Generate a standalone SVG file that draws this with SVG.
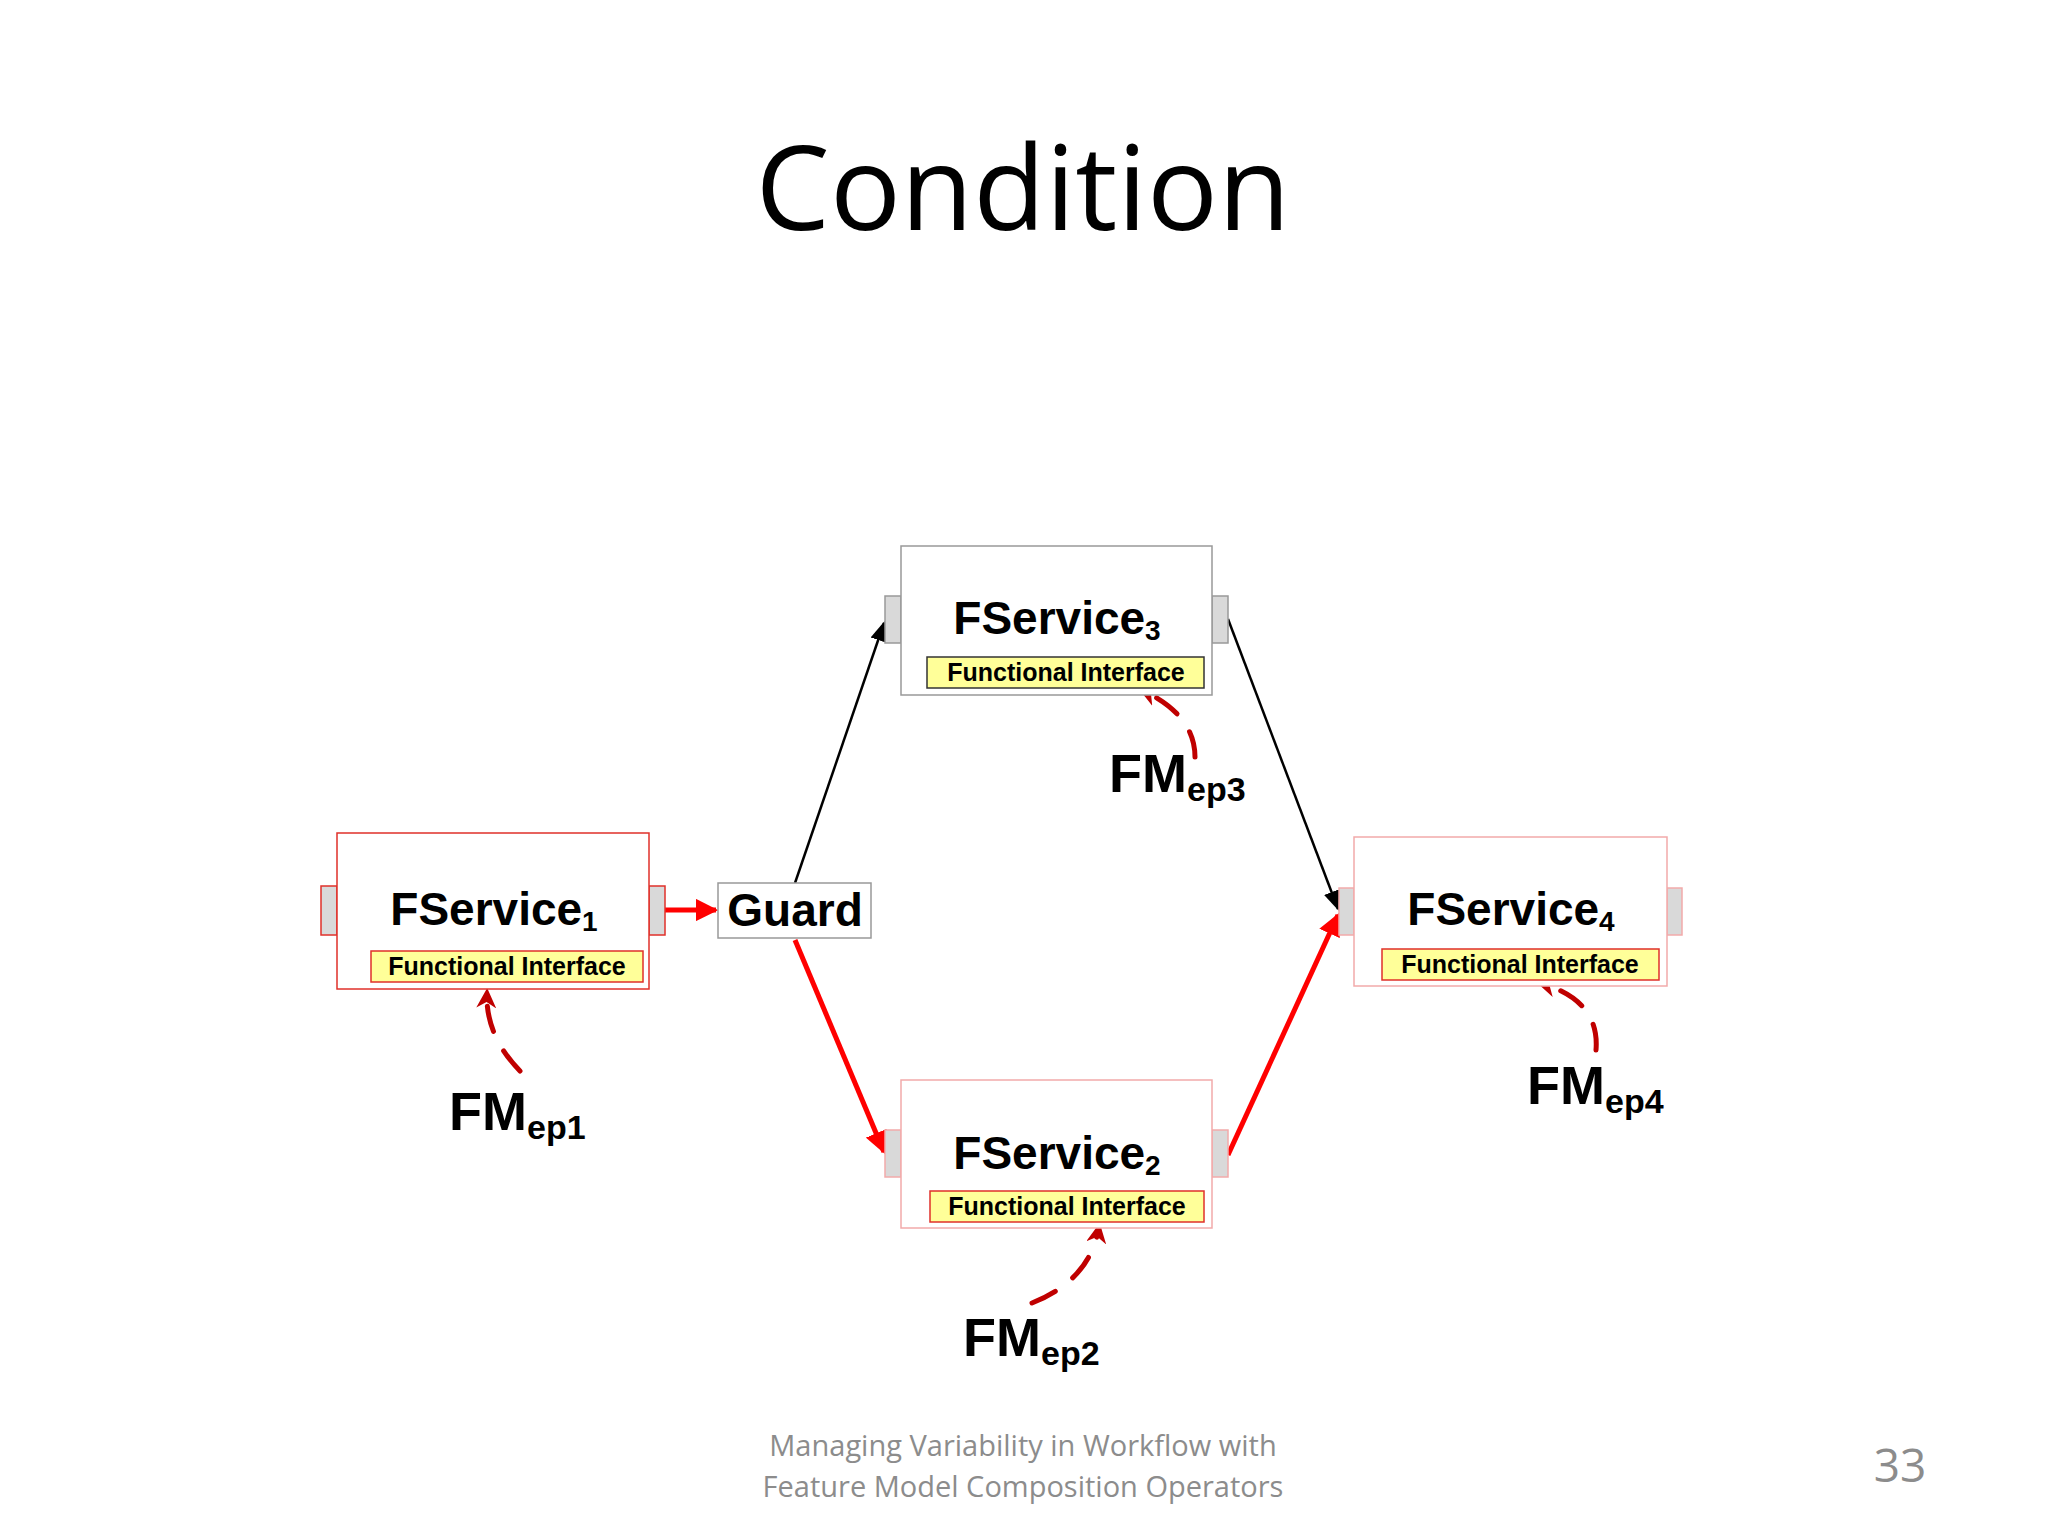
<svg xmlns="http://www.w3.org/2000/svg" width="2048" height="1536" viewBox="0 0 2048 1536">
<defs>
<style>
.box{fill:#fff}
.port{fill:#d9d9d9}
.fi{fill:#ffff99;stroke:#e0302a;stroke-width:1.5}
.t{font-family:"Liberation Sans",Arial,sans-serif;font-weight:bold;fill:#000}
.name{font-size:46px}
.fit{font-size:25px}
.fm{font-size:54px}
.dash{fill:none;stroke:#c00000;stroke-width:5;stroke-dasharray:26 22;stroke-linecap:round}
</style>
<marker id="ab" viewBox="0 0 10 10" refX="9" refY="5" markerWidth="8" markerHeight="8" orient="auto"><path d="M0,1 L10,5 L0,9 z" fill="#000"/></marker>
<marker id="ar" viewBox="0 0 10 10" refX="9" refY="5" markerWidth="4.5" markerHeight="4.5" orient="auto"><path d="M0,0 L10,5 L0,10 z" fill="#f00"/></marker>
<marker id="ad" viewBox="0 0 10 10" refX="8" refY="5" markerWidth="4" markerHeight="4" orient="auto"><path d="M0,0 L10,5 L0,10 L3,5 z" fill="#c00000"/></marker>
</defs>
<rect width="2048" height="1536" fill="#fff"/>
<text x="1023" y="230" text-anchor="middle" font-family="'Open Sans','Liberation Sans',sans-serif" font-size="118" fill="#000">Condition</text>

<g id="connectors">
<line x1="795" y1="883" x2="884" y2="623" stroke="#000" stroke-width="2.5" marker-end="url(#ab)"/>
<line x1="1228" y1="619" x2="1338" y2="909" stroke="#000" stroke-width="2.5" marker-end="url(#ab)"/>
<line x1="665" y1="910" x2="716" y2="910" stroke="#f00" stroke-width="5" marker-end="url(#ar)"/>
<line x1="795" y1="940" x2="884" y2="1152" stroke="#f00" stroke-width="5" marker-end="url(#ar)"/>
<line x1="1228" y1="1155" x2="1338" y2="915" stroke="#f00" stroke-width="5" marker-end="url(#ar)"/>
<path class="dash" d="M520,1071 Q485,1035 487,992" marker-end="url(#ad)"/>
<path class="dash" d="M1195,757 Q1195,715 1142,690" marker-end="url(#ad)"/>
<path class="dash" d="M1032,1303 Q1090,1280 1099,1227" marker-end="url(#ad)"/>
<path class="dash" d="M1596,1050 Q1600,1000 1540,983" marker-end="url(#ad)"/>
</g>

<g id="fservice1">
<rect class="port" x="321" y="886" width="16" height="49" stroke="#e0302a" stroke-width="1.5"/>
<rect class="port" x="649" y="886" width="16" height="49" stroke="#e0302a" stroke-width="1.5"/>
<rect class="box" x="337" y="833" width="312" height="156" stroke="#e0302a" stroke-width="1.5"/>
<text class="t name" x="494" y="925" text-anchor="middle">FService<tspan font-size="28" dy="6">1</tspan></text>
<rect class="fi" x="371" y="951" width="272" height="31"/>
<text class="t fit" x="507" y="975" text-anchor="middle">Functional Interface</text>
</g>

<g id="guard">
<rect x="718" y="883" width="153" height="55" fill="#fff" stroke="#999" stroke-width="1.5"/>
<text class="t name" x="795" y="926" text-anchor="middle">Guard</text>
</g>

<g id="fservice3">
<rect class="port" x="885" y="596" width="16" height="47" stroke="#999" stroke-width="1.5"/>
<rect class="port" x="1212" y="596" width="16" height="47" stroke="#999" stroke-width="1.5"/>
<rect class="box" x="901" y="546" width="311" height="149" stroke="#999" stroke-width="1.5"/>
<text class="t name" x="1057" y="634" text-anchor="middle">FService<tspan font-size="28" dy="6">3</tspan></text>
<rect class="fi" x="927" y="657" width="277" height="31" style="stroke:#333"/>
<text class="t fit" x="1066" y="681" text-anchor="middle">Functional Interface</text>
</g>

<g id="fservice2">
<rect class="port" x="885" y="1130" width="16" height="47" stroke="#f2aaaa" stroke-width="1.5"/>
<rect class="port" x="1212" y="1130" width="16" height="47" stroke="#f2aaaa" stroke-width="1.5"/>
<rect class="box" x="901" y="1080" width="311" height="148" stroke="#f2aaaa" stroke-width="1.5"/>
<text class="t name" x="1057" y="1169" text-anchor="middle">FService<tspan font-size="28" dy="6">2</tspan></text>
<rect class="fi" x="930" y="1191" width="274" height="31"/>
<text class="t fit" x="1067" y="1215" text-anchor="middle">Functional Interface</text>
</g>

<g id="fservice4">
<rect class="port" x="1339" y="888" width="15" height="47" stroke="#f2aaaa" stroke-width="1.5"/>
<rect class="port" x="1667" y="888" width="15" height="47" stroke="#f2aaaa" stroke-width="1.5"/>
<rect class="box" x="1354" y="837" width="313" height="149" stroke="#f2aaaa" stroke-width="1.5"/>
<text class="t name" x="1511" y="925" text-anchor="middle">FService<tspan font-size="28" dy="6">4</tspan></text>
<rect class="fi" x="1382" y="949" width="277" height="31"/>
<text class="t fit" x="1520" y="973" text-anchor="middle">Functional Interface</text>
</g>

<g id="fmep1"><text class="t fm" x="449" y="1130">FM<tspan font-size="34" dy="9">ep1</tspan></text></g>
<g id="fmep3"><text class="t fm" x="1109" y="792">FM<tspan font-size="34" dy="9">ep3</tspan></text></g>
<g id="fmep2"><text class="t fm" x="963" y="1356">FM<tspan font-size="34" dy="9">ep2</tspan></text></g>
<g id="fmep4"><text class="t fm" x="1527" y="1104">FM<tspan font-size="34" dy="9">ep4</tspan></text></g>

<g font-family="'Open Sans','Liberation Sans',sans-serif" fill="#8c8c8c">
<text x="1023" y="1456" text-anchor="middle" font-size="29">Managing Variability in Workflow with</text>
<text x="1023" y="1497" text-anchor="middle" font-size="29">Feature Model Composition Operators</text>
<text x="1900" y="1482" text-anchor="middle" font-size="46">33</text>
</g>
</svg>
